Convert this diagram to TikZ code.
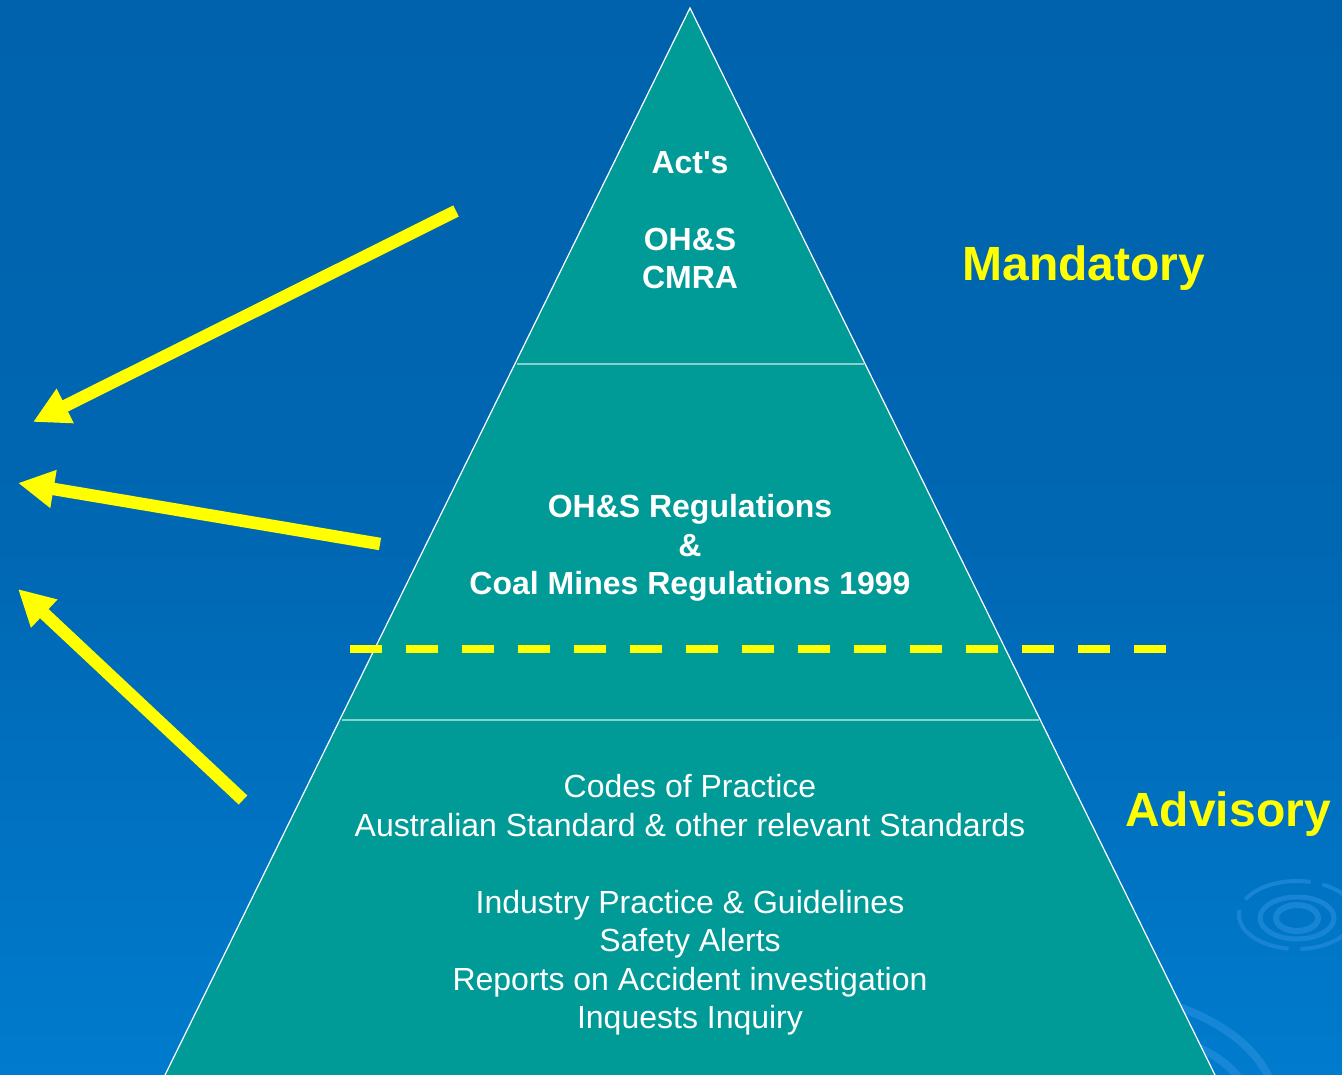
\documentclass[tikz,border=0pt]{standalone}
\usepackage{fontspec}
\setmainfont{Liberation Sans}[Ligatures=TeXOff]
\usetikzlibrary{positioning,arrows.meta}
\definecolor{bgtop}{HTML}{0062AC}
\definecolor{bgbot}{HTML}{007BCD}
\definecolor{pyr}{HTML}{009A97}
\definecolor{split}{HTML}{8ACFCD}
\definecolor{ripple}{HTML}{2890DE}
\definecolor{hiyellow}{HTML}{FFFF00}
\tikzset{
tier/.style={text=white, align=center, font=\bfseries\fontsize{32}{38.5}\selectfont},
tierB/.style={text=white, align=center, font=\fontsize{32}{38.5}\selectfont},
side/.style={text=hiyellow, font=\bfseries\fontsize{48}{56}\selectfont},
pointer/.style={draw=hiyellow, line width=12.5pt, -{Triangle[length=36pt,width=36pt]}},
ring/.style={draw=ripple, opacity=0.6}
}

\begin{document}
\begin{tikzpicture}[x=1pt,y=-1pt,>=stealth]
\useasboundingbox (0,0) rectangle (1342,1075);
\shade[top color=bgtop, bottom color=bgbot, middle color=bgtop!80!bgbot] (0,0) rectangle (1342,1075);

% ripples
\draw[ring, line width=6pt] (1297,918) ellipse [x radius=21, y radius=13];
\draw[ring, line width=5pt] (1297,918) ellipse [x radius=37, y radius=21];
\draw[ring, line width=4pt, dash pattern=on 70pt off 12pt] (1297,915) ellipse [x radius=58, y radius=34];
\draw[ring, line width=8pt] (1150,998) .. controls (1215,1015) and (1255,1045) .. (1270,1080);
\draw[ring, line width=8pt] (1150,1030) .. controls (1195,1042) and (1228,1060) .. (1240,1080);

% pyramid
\coordinate (apex) at (690,8);
\coordinate (bl) at (165,1075);
\coordinate (br) at (1215,1075);
\fill[pyr] (apex) -- (bl) -- (br) -- cycle;
\draw[split, line width=2.5pt] (517,364) -- (864,364);
\draw[split, line width=2.5pt] (342,720) -- (1039,720);
\draw[white, line width=1.2pt] (bl) -- (apex) -- (br);

% mandatory / advisory boundary
\draw[hiyellow, line width=8pt, dash pattern=on 32pt off 24pt] (350,649) -- (1167,649);

\node[tier] (acts) at (690,220) {Act's\\ \\OH\&S\\CMRA};
\node[tier] (regs) at (690,548) {OH\&S Regulations\\\&\\Coal Mines Regulations 1999};
\node[tierB] (codes) at (690,905) {Codes of Practice\\Australian Standard \& other relevant Standards\\ \\Industry Practice \& Guidelines\\Safety Alerts\\Reports on Accident investigation\\Inquests Inquiry};

\node[side] (mand) at (1084,268) {Mandatory};
\node[side] (adv) at (1228,814) {Advisory};

% arrows
\coordinate (a1s) at (456,211);
\coordinate (a1e) at (33,422);
\coordinate (a2s) at (380,544);
\coordinate (a2e) at (18,483);
\coordinate (a3s) at (243,800);
\coordinate (a3e) at (18,589);
\draw[pointer] (a1s) -- (a1e);
\draw[pointer] (a2s) -- (a2e);
\draw[pointer] (a3s) -- (a3e);
\end{tikzpicture}
\end{document}
